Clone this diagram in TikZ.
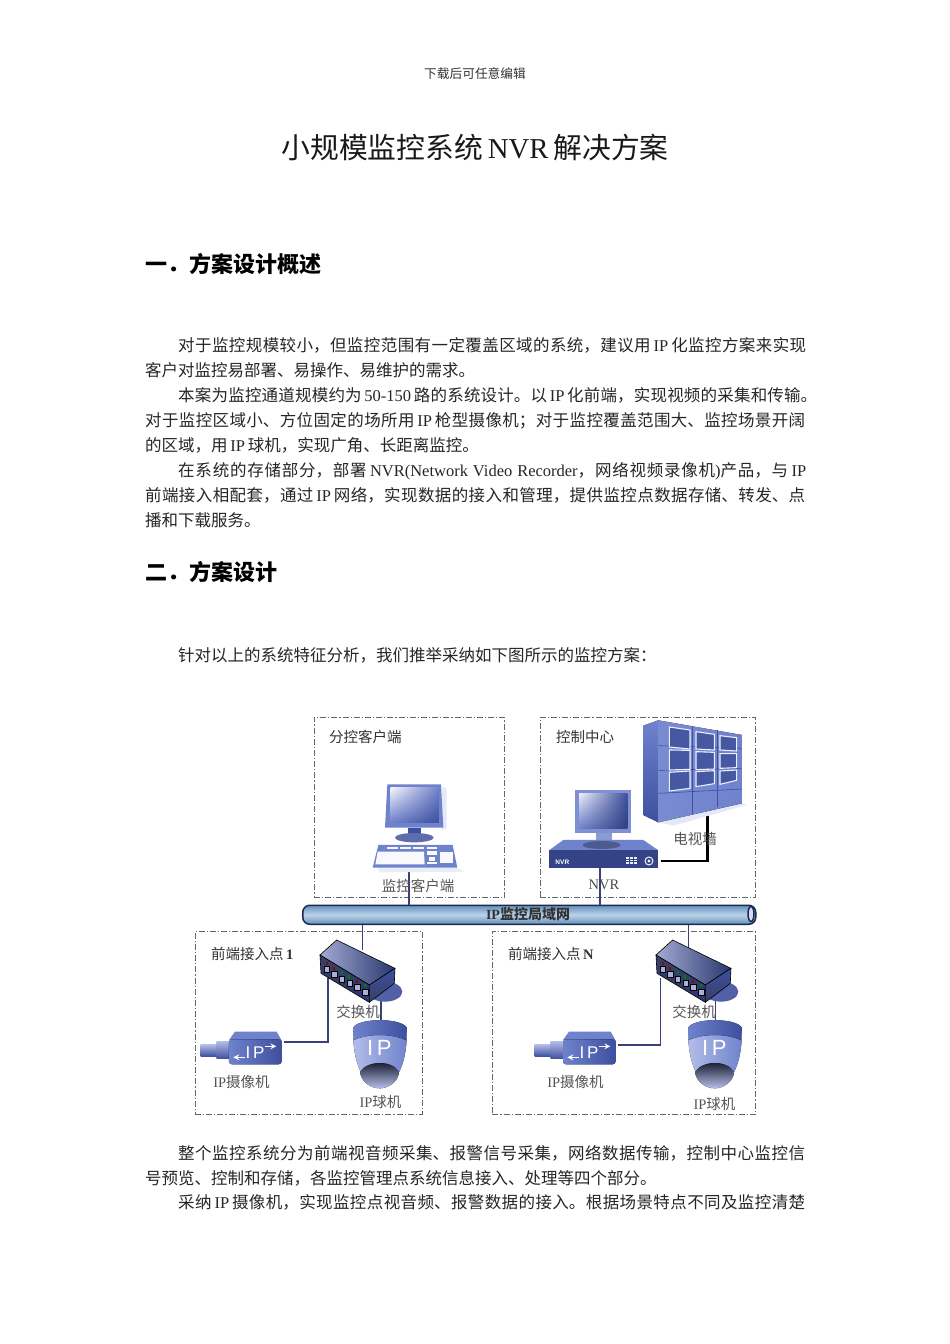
\documentclass[tikz,border=0pt]{standalone}
\usepackage{fontspec}
\usetikzlibrary{shadings}
\setmainfont{Liberation Serif}
\newfontfamily\cjk{Noto Sans CJK SC}
\newfontfamily\ipfont{Liberation Sans}
\newcommand{\C}[1]{{\cjk #1}}
\newcommand{\gp}{\hskip 2.5pt plus 2pt minus 1pt\relax}
\XeTeXlinebreaklocale "zh"
\XeTeXlinebreakskip=0pt plus 2pt minus 1pt
\definecolor{linkc}{HTML}{3B3F7C}
\definecolor{zonec}{HTML}{666666}
\definecolor{labc}{HTML}{555555}
\definecolor{devd}{HTML}{3D4F9E}
\definecolor{devm}{HTML}{6F82CC}
\definecolor{devl}{HTML}{B4BEEA}
\definecolor{busedge}{HTML}{1A2A4A}
\definecolor{busdark}{HTML}{6490BC}
\definecolor{buslight}{HTML}{BAD3E8}
\tikzset{
  bodyl/.style={anchor=base west,inner sep=0pt,font=\fontsize{16.5}{18}\selectfont,text=black!85},
  justl/.style={bodyl,text width=#1pt,align=justify},
  headl/.style={anchor=base west,inner sep=0pt,font=\fontsize{22}{24}\selectfont\bfseries,text=black},
  zone/.style={draw=zonec,line width=.8pt,dash pattern=on 6pt off 2pt on 1.2pt off 2pt,anchor=north west,inner sep=0pt},
  zonetitle/.style={anchor=west,inner sep=0pt,font=\fontsize{14.5}{16}\selectfont,text=black!80},
  devlabel/.style={inner sep=0pt,font=\fontsize{14.5}{16}\selectfont,text=labc},
  link/.style={draw=linkc,line width=1.5pt},
  tvlink/.style={draw=black,line width=2.2pt},
}
\newcommand{\LN}[5]{\node[justl=#4] (#1) at (#2,#3) {\parfillskip=0pt #5\par};}
\newcommand{\LF}[4]{\node[bodyl] (#1) at (#2,#3) {#4};}
\newcommand{\FrontEnd}[4]{%
  % camera
  \begin{scope}[shift={(185+#2,925)},x=.3333pt,y=-.3333pt]
    \fill[top color=devl,bottom color=devd] (47,358) rectangle (97,394);
    \fill[top color=devl,bottom color=devd] (95,348) rectangle (135,402);
    \fill[devm] (132,345) -- (150,320) -- (275,320) -- (292,350) -- cycle;
    \fill[rounded corners=3pt,left color=devm,right color=devd] (132,343) rectangle (290,418);
    \draw[white,line width=1.6pt,-stealth] (240,364) -- (274,364);
    \draw[white,line width=1.6pt,-stealth] (180,397) -- (145,397);
    \node[inner sep=0pt,text=white,font=\ipfont\fontsize{17}{18}\selectfont] (camtext#1) at (210,382) {I\,P};
  \end{scope}
  % switch
  \begin{scope}[shift={(185+#3,925)},x=.3333pt,y=-.3333pt]
    \fill[devd!90] (600,200) ellipse (52 and 30);
    \draw[black,line width=.6pt,left color=devl!90!black,right color=devd!70!black] (405,90) -- (455,45) -- (630,130) -- (553,180) -- cycle;
    \draw[black,line width=.6pt,top color=devm!50!black,bottom color=devd!70!black] (405,90) -- (553,180) -- (553,232) -- (408,145) -- cycle;
    \draw[black,line width=.6pt,top color=devd,bottom color=devm!50!black] (553,180) -- (630,130) -- (628,175) -- (553,232) -- cycle;
    \foreach \px/\py/\mk in {425/132/red!60!black,447/147/red!60!black,470/160/green!50!black,493/173/green!50!black,516/186/red!60!black,540/199/green!50!black}{
      \fill[devl!80!gray,draw=black,line width=.3pt] (\px-8,\py-8) rectangle (\px+8,\py+10);
      \fill[\mk] (\px-3,\py-22) rectangle (\px+3,\py-12);
    }
  \end{scope}
  % dome
  \begin{scope}[shift={(185+#4,925)},x=.3333pt,y=-.3333pt]
    \fill[left color=devl,right color=devm] (505,308) .. controls (520,285) and (650,285) .. (665,308)
      .. controls (668,370) and (655,420) .. (640,445) -- (530,445) .. controls (515,420) and (502,370) .. (505,308) -- cycle;
    \fill[left color=devm,right color=devd] (505,308) .. controls (520,278) and (650,278) .. (665,308)
      -- (662,345) .. controls (620,325) and (550,325) .. (507,345) -- cycle;
    \fill[top color=black!80!devd,bottom color=devl] (525,442) .. controls (545,405) and (625,405) .. (642,442)
      .. controls (640,470) and (610,490) .. (585,490) .. controls (555,490) and (530,470) .. (525,442) -- cycle;
    \node[inner sep=0pt,text=white,font=\ipfont\fontsize{22}{24}\selectfont] (dometext#1) at (583,370) {I\,P};
  \end{scope}
}
\begin{document}
\begin{tikzpicture}[x=1pt,y=-1pt]
\useasboundingbox (0,0) rectangle (950,1344);
\fill[white] (0,0) rectangle (950,1344);

% page text
\node[inner sep=0pt,font=\fontsize{12.7}{14}\selectfont,text=black!80] (hdr) at (475,74) {\C{下载后可任意编辑}};
\node[inner sep=0pt,font=\fontsize{28.8}{32}\selectfont,text=black!90] (title) at (475,148) {\C{小规模监控系统}\,NVR\,\C{解决方案}};
\node[headl] (h1) at (145,272) {\C{一．方案设计概述}};
\LN{a1}{178}{351}{628}{\C{对于监控规模较小，但监控范围有一定覆盖区域的系统，建议用}\gp IP\gp\C{化监控方案来实现}}
\LF{a2}{145}{376}{\C{客户对监控易部署、易操作、易维护的需求。}}
\LN{a3}{178}{401}{639}{\C{本案为监控通道规模约为}\gp 50-150\gp\C{路的系统设计。以}\gp IP\gp\C{化前端，实现视频的采集和传输。}}
\LN{a4}{145}{426}{660}{\C{对于监控区域小、方位固定的场所用}\gp IP\gp\C{枪型摄像机；对于监控覆盖范围大、监控场景开阔}}
\LF{a5}{145}{451}{\C{的区域，用}\,IP\,\C{球机，实现广角、长距离监控。}}
\LN{a6}{178}{476}{628}{\C{在系统的存储部分，部署}\gp NVR(Network Video Recorder\C{，网络视频录像机})\C{产品，与}\gp IP}
\LN{a7}{145}{501}{660}{\C{前端接入相配套，通过}\gp IP\gp\C{网络，实现数据的接入和管理，提供监控点数据存储、转发、点}}
\LF{a8}{145}{526}{\C{播和下载服务。}}
\node[headl] (h2) at (145,580) {\C{二．方案设计}};
\LF{b1}{178}{661}{\C{针对以上的系统特征分析，我们推举采纳如下图所示的监控方案：}}
\LN{c1}{178}{1159}{627}{\C{整个监控系统分为前端视音频采集、报警信号采集，网络数据传输，控制中心监控信}}
\LF{c2}{145}{1184}{\C{号预览、控制和存储，各监控管理点系统信息接入、处理等四个部分。}}
\LN{c3}{178}{1208}{627}{\C{采纳}\gp IP\gp\C{摄像机，实现监控点视音频、报警数据的接入。根据场景特点不同及监控清楚}}

% zones
\node[zone,minimum width=190.5pt,minimum height=180pt] (zclient) at (313.5,717) {};
\node[zone,minimum width=215pt,minimum height=180pt] (zcenter) at (540,717) {};
\node[zone,minimum width=227pt,minimum height=183pt] (zfront1) at (194.5,931) {};
\node[zone,minimum width=263pt,minimum height=183pt] (zfrontn) at (492,931) {};
\node[zonetitle] (tclient) at (329,737) {\C{分控客户端}};
\node[zonetitle] (tcenter) at (556,737) {\C{控制中心}};
\node[zonetitle] (tfront1) at (211,954) {\C{前端接入点}\,\textbf{1}};
\node[zonetitle] (tfrontn) at (508,954) {\C{前端接入点}\,\textbf{N}};

% bus
\node[draw=busedge,line width=1.5pt,rounded corners=7pt,minimum width=453pt,minimum height=19pt,inner sep=0pt,
      top color=busdark,bottom color=busdark,middle color=buslight,anchor=north west] (bus) at (302,904.5) {};
\draw[draw=busedge,line width=1.5pt,fill=white!85!blue] (751,914) ellipse (3 and 7.5);

% anchors of the connectors
\coordinate (pcport) at (409,872);
\coordinate (nvrport) at (600,868);
\coordinate (nvrout) at (660.7,861);
\coordinate (wallport) at (707.5,815);
\coordinate (sw1top) at (362.7,950);
\coordinate (swntop) at (688.3,950);
\coordinate (sw1side) at (328,978);
\coordinate (swnside) at (660.7,978);
\coordinate (cam1out) at (284,1042);
\coordinate (camnout) at (617.7,1045);
\coordinate (sw1down) at (381,998);
\coordinate (swndown) at (715.5,998);
\coordinate (dome1top) at (381,1021);
\coordinate (domentop) at (715.5,1021);

% connectors
\draw[link] (pcport) -- (pcport |- bus.north);
\draw[link] (nvrport) -- (nvrport |- bus.north);
\draw[link] (sw1top) -- (sw1top |- bus.south);
\draw[link] (swntop) -- (swntop |- bus.south);
\draw[link] (cam1out) -| (sw1side);
\draw[link] (camnout) -| (swnside);
\draw[link] (sw1down) -- (dome1top);
\draw[link] (swndown) -- (domentop);
\draw[tvlink] (nvrout) -| (wallport);

% client computer
\begin{scope}[shift={(300,705)},x=.3333pt,y=-.3333pt]
  \fill[devl!35] (425,245) -- (440,250) -- (440,370) -- (425,375) -- cycle;
  \fill[devl!30] (232,488) -- (472,488) -- (492,500) -- (240,502) -- cycle;
  \fill[devm] (262,238) -- (423,238) -- (430,368) -- (255,368) -- cycle;
  \shade[upper left=white!85!devl,lower right=devd,upper right=devm,lower left=devm] (272,248) rectangle (417,352);
  \fill[devd] (325,368) rectangle (362,392);
  \fill[devm!85!black] (343,398) ellipse (58 and 14);
  \fill[devm] (235,420) -- (458,420) -- (472,488) -- (218,488) -- cycle;
  \foreach \kx in {262,300,340,380}{\fill[white!90!devl] (\kx,425) rectangle (\kx+32,433);}
  \fill[white!90!devl] (233,440) -- (372,440) -- (374,478) -- (226,478) -- cycle;
  \fill[white!90!devl] (380,438) rectangle (412,450);
  \fill[white!90!devl] (380,470) -- (412,470) -- (412,478) -- (380,478) -- cycle;
  \fill[white!90!devl] (388,455) rectangle (404,468);
  \fill[white!90!devl] (420,440) rectangle (460,474);
\end{scope}
\node[devlabel] (lclient) at (418,886) {\C{监控客户端}};

% video wall
\begin{scope}[shift={(530,705)},x=.3333pt,y=-.3333pt]
  \fill[devl!35] (385,352) -- (640,295) -- (650,300) -- (430,362) -- cycle;
  \fill[top color=devm,bottom color=devd] (340,62) -- (385,46) -- (385,352) -- (340,330) -- cycle;
  \fill[left color=devm!85!devl,right color=devm] (385,46) -- (636,90) -- (636,295) -- (385,352) -- cycle;
  \draw[devd,line width=.6pt] (487,62) -- (487,328) (563,76) -- (563,305);
  \draw[devd,line width=.6pt] (385,122) -- (636,130) (385,196) -- (636,190) (385,265) -- (636,252);
  \foreach \xa/\ya/\xb/\yb/\yc/\yd in {
     418/66/480/75/132/126, 418/135/480/136/193/195, 418/202/480/198/250/258,
     498/80/553/88/135/132, 498/140/553/142/192/194, 498/200/553/197/236/245,
     570/92/620/98/138/135, 570/146/620/146/188/190, 570/198/620/195/226/238}{
    \draw[white!75!devl,line width=1.1pt,fill=devd!95!white] (\xa,\ya) -- (\xb,\yb) -- (\xb,\yc) -- (\xa,\yd) -- cycle;
  }
\end{scope}
\node[devlabel] (lwall) at (695,839) {\C{电视墙}};

% NVR
\begin{scope}[shift={(530,705)},x=.3333pt,y=-.3333pt]
  \fill[devm!75!devl] (135,255) rectangle (303,385);
  \shade[upper left=white!75!devl,lower right=devd!80!black,upper right=devd,lower left=devm] (147,266) rectangle (292,370);
  \fill[devm!80] (197,385) rectangle (245,418);
  \fill[devm] (100,405) -- (340,405) -- (385,436) -- (57,436) -- cycle;
  \fill[devm!70!black] (215,420) ellipse (57 and 12);
  \fill[devd!85!black] (57,436) rectangle (385,490);
  \foreach \bx in {287,299,311}{\foreach \by in {456,464,472}{\fill[white!80!devl] (\bx,\by) rectangle (\bx+9,\by+5);}}
  \draw[white!85!devl,line width=1pt] (357,468) circle (12);
  \fill[white!85!devl] (357,468) circle (5);
  \node[inner sep=0pt,text=white,font=\ipfont\bfseries\fontsize{6.5}{7}\selectfont] (nvrtext) at (97,473) {NVR};
\end{scope}
\node[inner sep=0pt,font=\fontsize{14.5}{16}\selectfont,text=black!70] (lnvr) at (604,885) {NVR};

% front-end sites
\FrontEnd{a}{0}{0}{0}
\FrontEnd{b}{334}{336}{335}
\node[devlabel] (lsw1) at (358,1012) {\C{交换机}};
\node[devlabel] (lswn) at (694,1012) {\C{交换机}};
\node[devlabel] (lcam1) at (241.5,1082) {IP\C{摄像机}};
\node[devlabel] (lcamn) at (575.5,1082) {IP\C{摄像机}};
\node[devlabel] (ldome1) at (380.5,1102) {IP\C{球机}};
\node[devlabel] (ldomen) at (714.5,1104) {IP\C{球机}};

% bus label
\node[inner sep=0pt,font=\fontsize{14}{16}\selectfont\bfseries,text=black!80] (lbus) at (528,914) {IP\C{监控局域网}};
\end{tikzpicture}
\end{document}
